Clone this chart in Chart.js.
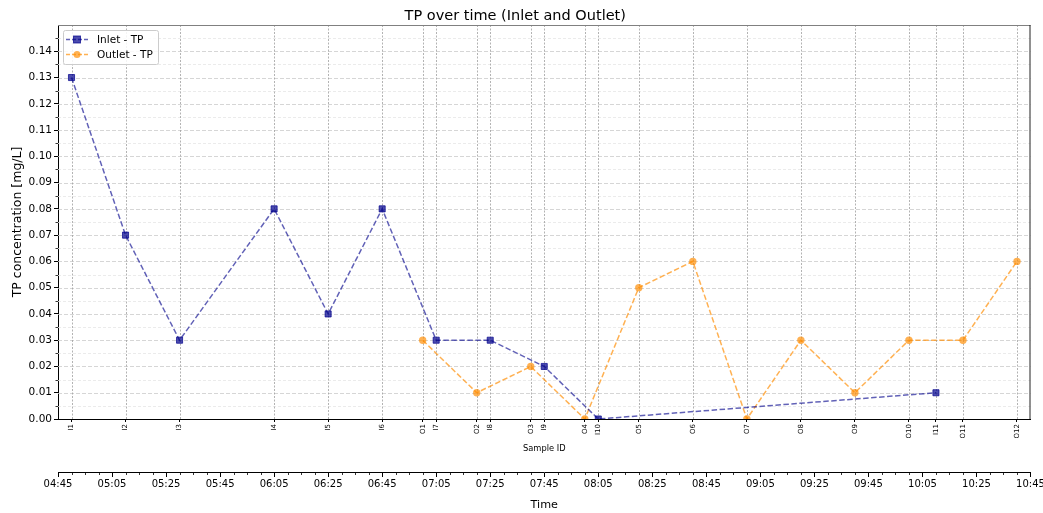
<!DOCTYPE html>
<html>
<head>
<meta charset="utf-8">
<script src="https://cdn.jsdelivr.net/npm/chart.js@4.4.0/dist/chart.umd.min.js"></script>
<style>
    body { margin: 0; background: #fff; }
    #wrap { width: 1043px; height: 513px; }
</style>
</head>
<body>
<div id="wrap"><canvas id="graficoTP" width="1043" height="513"></canvas></div>
<script>
// Amostras de entrada (Inlet)
const inletIds = ['I1', 'I2', 'I3', 'I4', 'I5', 'I6', 'I7', 'I8', 'I9', 'I10', 'I11'];
const inletTimes = ['04:50', '05:10', '05:30', '06:05', '06:25', '06:45', '07:05', '07:25', '07:45', '08:05', '10:10'];
const inletTP = [0.13, 0.07, 0.03, 0.08, 0.04, 0.08, 0.03, 0.03, 0.02, 0.00, 0.01];

// Amostras de saída (Outlet)
const outletIds = ['O1', 'O2', 'O3', 'O4', 'O5', 'O6', 'O7', 'O8', 'O9', 'O10', 'O11', 'O12'];
const outletTimes = ['07:00', '07:20', '07:40', '08:00', '08:20', '08:40', '09:00', '09:20', '09:40', '10:00', '10:20', '10:40'];
const outletTP = [0.03, 0.01, 0.02, 0.00, 0.05, 0.06, 0.00, 0.03, 0.01, 0.03, 0.03, 0.06];

// Eixo de tempo e eixo y
const timeTicks = ['04:45', '05:05', '05:25', '05:45', '06:05', '06:25', '06:45', '07:05', '07:25', '07:45',
                   '08:05', '08:25', '08:45', '09:05', '09:25', '09:45', '10:05', '10:25', '10:45'];
const yTicks = [0.00, 0.01, 0.02, 0.03, 0.04, 0.05, 0.06, 0.07, 0.08, 0.09, 0.10, 0.11, 0.12, 0.13, 0.14];
const yMinorStep = 0.005;
const timeMinorStep = 5; // minutos

const FONTE = "'DejaVu Sans', sans-serif";
const corInlet = 'rgba(0, 0, 139, 0.62)';
const corInletMarker = 'rgba(0, 0, 139, 0.7)';
const corOutlet = 'rgba(255, 140, 0, 0.68)';

function toMin(hhmm) {
    const [h, m] = hhmm.split(':').map(Number);
    return h * 60 + m;
}

const tMin = toMin(timeTicks[0]);
const tMax = toMin(timeTicks[timeTicks.length - 1]);

// todas as amostras juntas, em ordem de tempo (rótulos do eixo "Sample ID")
const amostras = inletIds.map((id, i) => ({ id, t: toMin(inletTimes[i]) }))
    .concat(outletIds.map((id, i) => ({ id, t: toMin(outletTimes[i]) })))
    .sort((a, b) => a.t - b.t);

const inletData = inletTimes.map((t, i) => ({ x: toMin(t), y: inletTP[i] }));
const outletData = outletTimes.map((t, i) => ({ x: toMin(t), y: outletTP[i] }));

function dashLine(ctx, x1, y1, x2, y2, color, dash, width) {
    ctx.save();
    ctx.strokeStyle = color;
    ctx.lineWidth = width || 1;
    ctx.setLineDash(dash);
    ctx.beginPath();
    ctx.moveTo(x1, y1);
    ctx.lineTo(x2, y2);
    ctx.stroke();
    ctx.restore();
}

// grade, ticks menores, moldura e legenda
const extrasPlugin = {
    id: 'extras',
    beforeDatasetsDraw(chart) {
        const { ctx, chartArea: a, scales } = chart;
        const y = scales.y, x = scales.x;
        // linhas horizontais menores
        for (let v = yMinorStep; v < 0.15; v += 2 * yMinorStep) {
            const py = Math.round(y.getPixelForValue(v)) + 0.5;
            dashLine(ctx, a.left, py, a.right, py, '#e6e6e6', [3, 2], 0.8);
        }
        // linhas horizontais maiores
        yTicks.forEach(v => {
            if (v === 0) return;
            const py = Math.round(y.getPixelForValue(v)) + 0.5;
            dashLine(ctx, a.left, py, a.right, py, '#cccccc', [4, 2], 0.8);
        });
        // linhas verticais nas amostras
        amostras.forEach(s => {
            const px = Math.round(x.getPixelForValue(s.t)) + 0.5;
            dashLine(ctx, px, a.top, px, a.bottom, '#a0a0a0', [2, 1.5], 0.8);
        });
    },
    afterDraw(chart) {
        const { ctx, chartArea: a, scales } = chart;
        // moldura superior e direita
        dashLine(ctx, a.left, a.top + 0.5, a.right, a.top + 0.5, '#808080', [], 1.2);
        dashLine(ctx, a.right - 0.5, a.top, a.right - 0.5, a.bottom, '#222', [], 1);
        // ticks menores do eixo y
        const y = scales.y;
        for (let v = yMinorStep; v < 0.15; v += 2 * yMinorStep) {
            const py = Math.round(y.getPixelForValue(v)) + 0.5;
            dashLine(ctx, a.left - 2.5, py, a.left, py, '#000', [], 0.8);
        }
        // ticks menores do eixo de tempo
        const x2 = scales.x2;
        for (let t = tMin; t <= tMax; t += timeMinorStep) {
            if ((t - tMin) % 20 === 0) continue;
            const px = Math.round(x2.getPixelForValue(t)) + 0.5;
            dashLine(ctx, px, x2.top, px, x2.top + 3, '#000', [], 0.8);
        }
        // legenda dentro da área do gráfico
        const lx = a.left + 5, ly = a.top + 5, lw = 95, lh = 34;
        ctx.save();
        ctx.fillStyle = 'rgba(255,255,255,0.85)';
        ctx.strokeStyle = '#cccccc';
        ctx.lineWidth = 1;
        ctx.beginPath();
        ctx.roundRect(lx + 0.5, ly + 0.5, lw, lh, 2);
        ctx.fill();
        ctx.stroke();
        ctx.restore();
        chart.data.datasets.forEach((ds, i) => {
            const ry = ly + 9.5 + i * 15;
            dashLine(ctx, lx + 3, ry, lx + 25, ry, ds.borderColor, [4, 2], 1.5);
            ctx.save();
            ctx.fillStyle = ds.pointBackgroundColor;
            ctx.strokeStyle = ds.pointBorderColor;
            ctx.lineWidth = 1;
            if (ds.pointStyle === 'rect') {
                ctx.fillRect(lx + 10.5, ry - 3.5, 7, 7);
                ctx.strokeRect(lx + 10.5, ry - 3.5, 7, 7);
            } else {
                ctx.beginPath();
                ctx.arc(lx + 14, ry, 3.5, 0, Math.PI * 2);
                ctx.fill();
            }
            ctx.fillStyle = '#000';
            ctx.font = `10.5px ${FONTE}`;
            ctx.textBaseline = 'middle';
            ctx.fillText(ds.label, lx + 34, ry + 0.5);
            ctx.restore();
        });
    }
};

const semPadding = s => { s.paddingLeft = 0; s.paddingRight = 0; };

const ctx = document.getElementById('graficoTP').getContext('2d');
new Chart(ctx, {
    type: 'line',
    data: {
        datasets: [{
            label: 'Inlet - TP',
            data: inletData,
            xAxisID: 'x',
            yAxisID: 'y',
            borderColor: corInlet,
            borderWidth: 1.5,
            borderDash: [5.5, 2.5],
            pointStyle: 'rect',
            pointRadius: 4.3,
            pointBackgroundColor: corInletMarker,
            pointBorderColor: corInletMarker,
            pointBorderWidth: 1,
            tension: 0,
            clip: 0
        }, {
            label: 'Outlet - TP',
            data: outletData,
            xAxisID: 'x',
            yAxisID: 'y',
            borderColor: corOutlet,
            borderWidth: 1.5,
            borderDash: [5.5, 2.5],
            pointStyle: 'circle',
            pointRadius: 3.7,
            pointBackgroundColor: corOutlet,
            pointBorderColor: corOutlet,
            pointBorderWidth: 0,
            tension: 0,
            clip: 0
        }]
    },
    options: {
        responsive: false,
        animation: false,
        layout: { padding: { top: 0, right: 12.5, bottom: 0, left: 0 } },
        plugins: {
            legend: { display: false },
            tooltip: { enabled: false },
            title: {
                display: true,
                text: 'TP over time (Inlet and Outlet)',
                color: '#000',
                font: { family: FONTE, size: 14.5, weight: 'normal' },
                padding: { top: 7.6, bottom: 0 }
            }
        },
        scales: {
            y: {
                type: 'linear',
                position: 'left',
                min: 0,
                max: 0.15,
                afterBuildTicks: s => { s.ticks = yTicks.map(v => ({ value: v })); },
                afterFit: s => { s.width = 58; s.paddingTop = 0; s.paddingBottom = 0; },
                ticks: {
                    color: '#000',
                    font: { family: FONTE, size: 10.5 },
                    padding: 2,
                    callback: v => v.toFixed(2)
                },
                grid: { drawOnChartArea: false, drawTicks: true, tickLength: 4, tickColor: '#000' },
                border: { color: '#000', width: 1 },
                title: {
                    display: true,
                    text: 'TP concentration [mg/L]',
                    color: '#000',
                    font: { family: FONTE, size: 12.5 },
                    padding: { top: 10 }
                }
            },
            x: {
                type: 'linear',
                position: 'bottom',
                weight: 0,
                min: tMin,
                max: tMax,
                afterBuildTicks: s => { s.ticks = amostras.map(a => ({ value: a.t })); },
                afterFit: s => { s.height = 53; semPadding(s); },
                ticks: {
                    autoSkip: false,
                    maxRotation: 90,
                    minRotation: 90,
                    color: '#000',
                    font: { family: FONTE, size: 7 },
                    padding: 2,
                    callback: (v, i) => amostras[i].id
                },
                grid: { drawOnChartArea: false, drawTicks: true, tickLength: 3, tickColor: '#000' },
                border: { color: '#000', width: 1 },
                title: {
                    display: true,
                    text: 'Sample ID',
                    color: '#000',
                    font: { family: FONTE, size: 8.3 },
                    padding: { bottom: 18 }
                }
            },
            x2: {
                type: 'linear',
                position: 'bottom',
                weight: 1,
                min: tMin,
                max: tMax,
                afterBuildTicks: s => { s.ticks = timeTicks.map(t => ({ value: toMin(t) })); },
                afterFit: s => { s.height = 41; semPadding(s); },
                ticks: {
                    autoSkip: false,
                    maxRotation: 0,
                    minRotation: 0,
                    color: '#000',
                    font: { family: FONTE, size: 10 },
                    padding: 1,
                    callback: (v, i) => timeTicks[i]
                },
                grid: { drawOnChartArea: false, drawTicks: true, tickLength: 5, tickColor: '#000' },
                border: { color: '#000', width: 1 },
                title: {
                    display: true,
                    text: 'Time',
                    color: '#000',
                    font: { family: FONTE, size: 11.2 },
                    padding: { bottom: 1 }
                }
            }
        }
    },
    plugins: [extrasPlugin]
});
</script>
</body>
</html>
